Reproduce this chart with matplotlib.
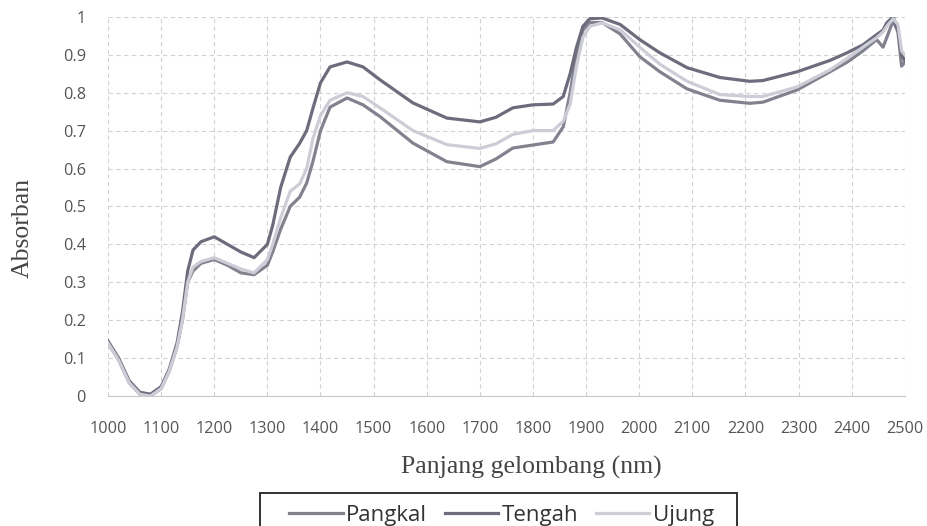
import matplotlib
matplotlib.use("Agg")
import matplotlib.pyplot as plt
from matplotlib.patches import Rectangle

# panjang gelombang (nm)
wl = [1000, 1020, 1040, 1060, 1080, 1100, 1115, 1130, 1140, 1150,
      1160, 1175, 1200, 1225, 1250, 1275, 1300, 1310, 1325, 1343,
      1361, 1374, 1386, 1400, 1418, 1450, 1480, 1512, 1574, 1638,
      1700, 1730, 1762, 1800, 1838, 1857, 1870, 1882, 1894, 1907,
      1930, 1964, 2001, 2039, 2090, 2152, 2208, 2233, 2297, 2359,
      2391, 2421, 2447, 2459, 2466, 2478, 2487, 2494, 2500]

pangkal = [0.14, 0.095, 0.035, 0.005, 0.0, 0.02, 0.065, 0.13, 0.20, 0.30,
           0.33, 0.35, 0.36, 0.345, 0.325, 0.32, 0.345, 0.38, 0.44, 0.50,
           0.525, 0.562, 0.62, 0.70, 0.762, 0.786, 0.768, 0.737, 0.667, 0.618,
           0.605, 0.625, 0.654, 0.662, 0.67, 0.71, 0.80, 0.905, 0.965, 0.985,
           0.985, 0.955, 0.895, 0.855, 0.81, 0.78, 0.772, 0.775, 0.807, 0.855,
           0.88, 0.91, 0.94, 0.92, 0.945, 0.99, 0.96, 0.87, 0.88]

tengah = [0.145, 0.10, 0.04, 0.01, 0.005, 0.025, 0.07, 0.14, 0.22, 0.33,
          0.385, 0.407, 0.42, 0.40, 0.38, 0.365, 0.40, 0.45, 0.55, 0.63,
          0.667, 0.70, 0.76, 0.826, 0.868, 0.881, 0.868, 0.834, 0.773, 0.733,
          0.723, 0.735, 0.76, 0.768, 0.77, 0.79, 0.85, 0.92, 0.975, 0.995,
          0.997, 0.98, 0.94, 0.905, 0.866, 0.84, 0.83, 0.832, 0.855, 0.885,
          0.905, 0.926, 0.953, 0.965, 0.984, 1.0, 0.966, 0.90, 0.885]

ujung = [0.14, 0.095, 0.035, 0.005, 0.0, 0.02, 0.065, 0.13, 0.20, 0.30,
         0.34, 0.355, 0.365, 0.35, 0.335, 0.325, 0.36, 0.40, 0.47, 0.54,
         0.56, 0.60, 0.68, 0.74, 0.78, 0.80, 0.79, 0.76, 0.70, 0.663,
         0.653, 0.665, 0.69, 0.70, 0.70, 0.725, 0.77, 0.87, 0.945, 0.975,
         0.984, 0.966, 0.92, 0.875, 0.83, 0.795, 0.79, 0.79, 0.815, 0.86,
         0.89, 0.92, 0.945, 0.96, 0.975, 0.995, 0.98, 0.91, 0.90]

xticks = list(range(1000, 2501, 100))
yticks = [0, 0.1, 0.2, 0.3, 0.4, 0.5, 0.6, 0.7, 0.8, 0.9, 1]
ylabels = ["0", "0.1", "0.2", "0.3", "0.4", "0.5", "0.6", "0.7", "0.8", "0.9", "1"]

fig = plt.figure(figsize=(9.28, 5.26), dpi=100)
ax = fig.add_axes([0.1164, 0.247, 0.8586, 0.721])

ax.plot(wl, pangkal, color="#82828f", lw=2.3, label="Pangkal")
ax.plot(wl, tengah, color="#6c6c7c", lw=2.3, label="Tengah")
ax.plot(wl, ujung, color="#cdcdd8", lw=2.3, label="Ujung")

ax.set_xlim(1000, 2500)
ax.set_ylim(0, 1)
ax.set_xticks(xticks)
ax.set_yticks(yticks)
ax.set_yticklabels(ylabels)
ax.grid(True, color="#d2d2d2", linestyle=(0, (4, 3)), linewidth=0.8)
for s in ["top", "right", "left"]:
    ax.spines[s].set_visible(False)
ax.spines["bottom"].set_color("#c8c8c8")
ax.tick_params(length=0, colors="#555555", labelsize=11.7)
ax.tick_params(axis="x", pad=18)
ax.tick_params(axis="y", pad=16)
for lab in ax.get_xticklabels() + ax.get_yticklabels():
    lab.set_family("Open Sans")

# judul sumbu
ax.set_xlabel("Panjang gelombang (nm)", family="Liberation Serif", fontsize=18.5,
              color="#444444", va="center")
ax.xaxis.set_label_coords(0.531, -0.187)
ax.set_ylabel("Absorban", family="Liberation Serif", fontsize=18.5,
              color="#444444", va="center")
ax.yaxis.set_label_coords(-0.1066, 0.443)

leg = fig.legend(loc="center", bbox_to_anchor=(0.5405, 1 - 515 / 526), ncol=3,
                 frameon=False, prop={"family": "Open Sans", "size": 16},
                 handlelength=2.4, columnspacing=0.8, handletextpad=0.15)
for t in leg.get_texts():
    t.set_color("#333333")
fig.patches.append(Rectangle((0.2802, -0.01), 0.514, 0.0727, transform=fig.transFigure,
                             fill=False, edgecolor="#222222", linewidth=1.3))

fig.savefig("out.png", dpi=100)
